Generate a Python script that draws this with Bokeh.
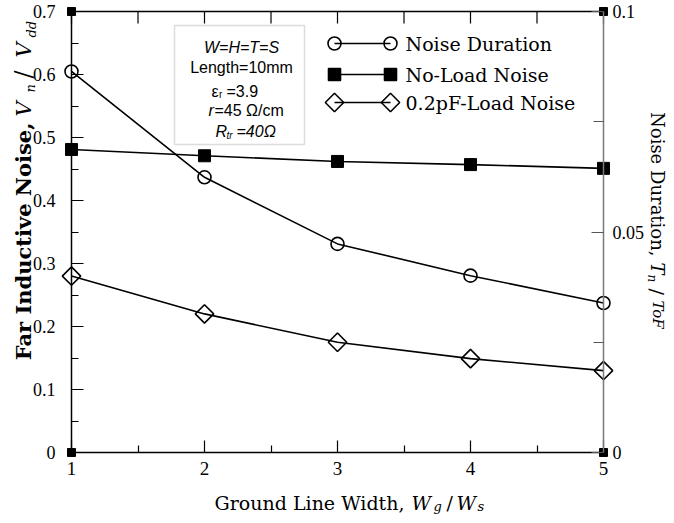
import math
from bokeh.plotting import figure
from bokeh.models import Range1d, LinearAxis, FixedTicker, Label, BoxAnnotation
from bokeh.embed import file_html
from bokeh.resources import INLINE

# ---------------- data ----------------
ground_width = [1, 2, 3, 4, 5]                                  # Wg / Ws
noise_duration = [0.0864, 0.0624, 0.0473, 0.0401, 0.0339]       # Tn / ToF (right axis)
no_load_noise = [0.481, 0.471, 0.462, 0.457, 0.451]             # Vn / Vdd
load_noise = [0.280, 0.220, 0.175, 0.149, 0.130]                # Vn / Vdd

corner_x = [1, 1, 5, 5]
corner_y = [0.0, 0.7, 0.7, 0.0]

series_names = ["Noise Duration", "No-Load Noise", "0.2pF-Load Noise"]

x_ticks = [1, 2, 3, 4, 5]
x_minor_ticks = [1.5, 2.5, 3.5, 4.5]
x_tick_labels = ["1", "2", "3", "4", "5"]
y_ticks = [0, 0.1, 0.2, 0.3, 0.4, 0.5, 0.6, 0.7]
y_minor_ticks = [0.05, 0.15, 0.25, 0.35, 0.45, 0.55, 0.65]
y_tick_labels = ["0", "0.1", "0.2", "0.3", "0.4", "0.5", "0.6", "0.7"]
y2_ticks = [0, 0.05, 0.1]
y2_minor_ticks = [0.025, 0.075]
y2_tick_labels = ["0", "0.05", "0.1"]

# ---------------- layout (canvas pixels) ----------------
W, H = 674, 523
FL, FR, FT, FB = 71, 603, 11, 452           # where the plot box lies on the canvas
XMIN, XMAX, YMIN, YMAX = 1, 5, 0.0, 0.7
Y2MIN, Y2MAX = 0.0, 0.1


def X(px):
    return XMIN + (px - FL) * (XMAX - XMIN) / (FR - FL)


def Y(py):
    return YMIN + (FB - py) * (YMAX - YMIN) / (FB - FT)


def Y2(py):
    return Y2MIN + (FB - py) * (Y2MAX - Y2MIN) / (FB - FT)


# the frame covers the whole canvas; the axes are pinned to the plot box edges
p = figure(width=W, height=H,
           x_range=Range1d(X(0), X(W)), y_range=Range1d(Y(H), Y(0)),
           output_backend="svg", toolbar_location=None,
           min_border=0, min_border_left=0, min_border_right=0,
           min_border_top=0, min_border_bottom=0)
p.grid.visible = False
p.outline_line_color = None
p.background_fill_color = "white"
p.border_fill_color = "white"
p.extra_y_ranges = {"dur": Range1d(Y2(H), Y2(0))}

# bottom axis
xa = p.xaxis[0]
xa.fixed_location = YMIN
xa.bounds = (XMIN, XMAX)
xa.ticker = FixedTicker(ticks=x_ticks, minor_ticks=x_minor_ticks)
xa.major_label_overrides = dict(zip(x_ticks, x_tick_labels))
xa.major_tick_in = 12
xa.major_tick_out = 0
xa.minor_tick_in = 7
xa.minor_tick_out = 0
xa.axis_line_width = 1.5
xa.major_tick_line_width = 1.2
xa.minor_tick_line_width = 1.2
xa.major_label_text_font = "Liberation Serif"
xa.major_label_text_font_size = "19px"
xa.major_label_text_color = "black"
xa.major_label_standoff = 9

# left axis
ya = p.yaxis[0]
ya.fixed_location = XMIN
ya.bounds = (YMIN, YMAX)
ya.ticker = FixedTicker(ticks=y_ticks, minor_ticks=y_minor_ticks)
ya.major_label_overrides = dict(zip(y_ticks, y_tick_labels))
ya.major_tick_in = 12
ya.major_tick_out = 0
ya.minor_tick_in = 7
ya.minor_tick_out = 0
ya.axis_line_width = 1.5
ya.major_tick_line_width = 1.2
ya.minor_tick_line_width = 1.2
ya.major_label_text_font = "Liberation Serif"
ya.major_label_text_font_size = "18px"
ya.major_label_text_color = "black"
ya.major_label_standoff = 16

# right axis
ra = LinearAxis(y_range_name="dur", fixed_location=XMAX, bounds=(Y2MIN, Y2MAX),
                ticker=FixedTicker(ticks=y2_ticks, minor_ticks=y2_minor_ticks),
                major_label_overrides=dict(zip(y2_ticks, y2_tick_labels)),
                major_tick_in=12, major_tick_out=0, minor_tick_in=10, minor_tick_out=0,
                axis_line_color="#7a7a7a", axis_line_width=1.5,
                major_tick_line_color="#555555", minor_tick_line_color="#555555",
                major_tick_line_width=1.2, minor_tick_line_width=1.2,
                major_label_text_font="Liberation Serif", major_label_text_font_size="18px",
                major_label_text_color="black", major_label_standoff=9)
p.add_layout(ra, "right")

# top edge with inward ticks, from the x range and tick arrays
p.segment(x0=[XMIN], y0=[YMAX], x1=[XMAX], y1=[YMAX], line_color="black", line_width=1.5)
top_len = 12 * (YMAX - YMIN) / (FB - FT)
top_ticks = x_ticks + x_minor_ticks
p.segment(x0=top_ticks, y0=[YMAX] * len(top_ticks), x1=top_ticks,
          y1=[YMAX - top_len] * len(top_ticks), line_color="black", line_width=1.2)

# ---------------- data marks ----------------
p.line(ground_width, noise_duration, y_range_name="dur", line_color="black", line_width=1.6)
p.scatter(ground_width, noise_duration, y_range_name="dur", marker="circle", size=13,
          fill_color=None, line_color="black", line_width=1.6)
p.line(ground_width, no_load_noise, line_color="black", line_width=1.6)
p.scatter(ground_width, no_load_noise, marker="square", size=12,
          fill_color="black", line_color="black")
p.line(ground_width, load_noise, line_color="black", line_width=1.6)
p.scatter(ground_width, load_noise, marker="square", angle=math.pi / 4, size=13,
          fill_color=None, line_color="black", line_width=1.6)
p.scatter(corner_x, corner_y, marker="square", size=8, fill_color="black", line_color="black")

# ---------------- legend key: marker - line - marker, label ----------------
legend_styles = [dict(marker="circle", size=13, fill_color=None, angle=0),
                 dict(marker="square", size=12, fill_color="black", angle=0),
                 dict(marker="square", size=13, fill_color=None, angle=math.pi / 4)]
legend_rows_py = [43, 74, 102]
key_x_px = [334, 390]
for name, sty, ry in zip(series_names, legend_styles, legend_rows_py):
    kx = [X(v) for v in key_x_px]
    ky = [Y(ry)] * 2
    p.line(kx, ky, line_color="black", line_width=1.6)
    p.scatter(kx, ky, marker=sty["marker"], size=sty["size"], angle=sty["angle"],
              fill_color=sty["fill_color"], line_color="black", line_width=1.6)
    p.add_layout(Label(x=X(405), y=Y(ry), text=name, text_font="DejaVu Serif",
                       text_font_size="19px", text_align="left", text_baseline="middle",
                       text_color="black"))

# ---------------- parameter box ----------------
p.add_layout(BoxAnnotation(left=X(174), right=X(304), top=Y(25), bottom=Y(144),
                           fill_color="white", fill_alpha=1, line_color="#8a8a8a",
                           line_width=1.5, level="annotation"))


def lab(text, px, py, size, font="Liberation Sans", style="normal", angle=0,
        align="left", baseline="alphabetic"):
    p.add_layout(Label(x=X(px), y=Y(py), text=text, text_font=font,
                       text_font_size=f"{size}px", text_font_style=style,
                       angle=angle, text_align=align, text_baseline=baseline,
                       text_color="black"))


lab("W=H=T=S", 241, 46.7, 16, style="italic", align="center")
lab("Length=10mm", 241, 66.7, 16, align="center")
lab("\u03b5", 211, 90.7, 16)
lab("r", 218.5, 94, 10)
lab("=3.9", 226, 90.7, 16)
lab("r", 208, 110, 16, style="italic")
lab("=45 \u03a9/cm", 214, 110, 16)
lab("R", 215, 131, 16, style="italic")
lab("tr", 226, 135, 10, style="italic")
lab("=40\u03a9", 236, 131, 16, style="italic")

# ---------------- axis titles ----------------
lab("Ground Line Width,", 404, 502, 19, font="DejaVu Serif", align="right")
lab("W", 411, 502, 19, font="DejaVu Serif", style="italic")
lab("g", 433, 506, 13, font="DejaVu Serif", style="italic")
lab("/", 446, 502, 19, font="DejaVu Serif")
lab("W", 456, 502, 19, font="DejaVu Serif", style="italic")
lab("s", 477, 506, 13, font="DejaVu Serif", style="italic")

up = math.pi / 2
lab("Far Inductive Noise,", 23, 122, 21, font="DejaVu Serif", style="bold", angle=up, align="right")
lab("V", 23, 116, 21, font="DejaVu Serif", style="italic", angle=up)
lab("n", 30, 92, 13, font="DejaVu Serif", style="italic", angle=up)
lab("/", 23, 78, 24, font="DejaVu Serif", angle=up)
lab("V", 23, 57, 21, font="DejaVu Serif", style="italic", angle=up)
lab("dd", 31, 37, 13, font="DejaVu Serif", style="italic", angle=up)

down = -math.pi / 2
lab("Noise Duration,", 657, 256, 18, font="DejaVu Serif", angle=down, align="right")
lab("T", 657, 262, 18, font="DejaVu Serif", style="italic", angle=down)
lab("n", 651, 274, 12, font="DejaVu Serif", style="italic", angle=down)
lab("/", 656, 288, 19, font="DejaVu Serif", angle=down)
lab("ToF", 657, 300, 15, font="DejaVu Serif", style="italic", angle=down)

open("out.html", "w").write(file_html(p, INLINE))
